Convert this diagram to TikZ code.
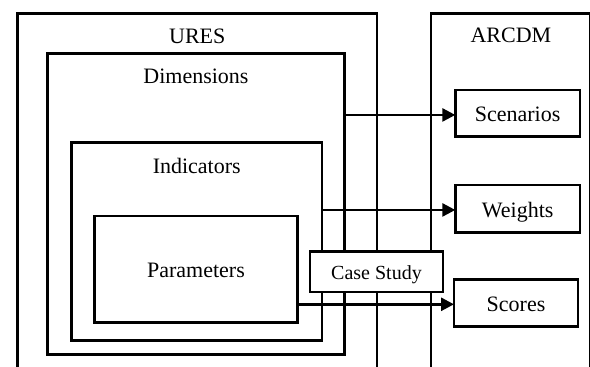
\documentclass[tikz,border=0pt]{standalone}
\usepackage{fontspec}
\setmainfont{Liberation Serif}
\usetikzlibrary{arrows.meta,calc}
\tikzset{
  box/.style={draw, line width=2.7pt, rectangle, inner sep=0pt, outer sep=0pt, anchor=north west},
  tbox/.style={box, font=\fontsize{22}{26}\selectfont, text height=17pt, text depth=0pt},
  lbl/.style={font=\fontsize{22}{26}\selectfont, anchor=base, inner sep=0pt},
  arr/.style={line width=2.7pt, -{Triangle[length=13pt,width=13pt]}},
}
\begin{document}
\begin{tikzpicture}[x=1pt,y=-1pt]
\clip (0,0) rectangle (590,367);
\fill[white] (0,0) rectangle (590,367);
% containers
\node[box, minimum width=359.5pt, minimum height=420pt] (ures) at (17.5,13.3) {};
\node[box, minimum width=159.8pt, minimum height=420pt] (arcdm) at (431,13.3) {};
\node[box, minimum width=297.5pt, minimum height=300.9pt] (dim) at (47.2,53.3) {};
\node[box, minimum width=250.5pt, minimum height=198.1pt] (ind) at (71.5,142.7) {};
\node[tbox, minimum width=203.4pt, minimum height=106.8pt] (par) at (94.3,216) {Parameters};
% titles
\node[lbl] (uresl) at ($(ures.north)+(0,30)$) {URES};
\node[lbl] (arcdml) at ($(arcdm.north)+(0,29.4)$) {ARCDM};
\node[lbl] (diml) at ($(dim.north)+(0,30)$) {Dimensions};
\node[lbl] (indl) at ($(ind.north)+(0,30.6)$) {Indicators};
% ARCDM items
\node[tbox, minimum width=124.7pt, minimum height=46.3pt] (scen) at (455.3,90) {Scenarios};
\node[tbox, minimum width=124.7pt, minimum height=47.3pt] (wts) at (455.3,185) {Weights};
\node[tbox, minimum width=124pt, minimum height=47pt] (sco) at (454,279.7) {Scores};
% arrows
\draw[arr] ($(dim.east |- scen.west)+(0,1.8)$) -- ($(scen.west)+(0,1.8)$);
\draw[arr] ($(ind.east |- wts.west)+(0,1.3)$) -- ($(wts.west)+(0,1.3)$);
\draw[arr] ($(par.east |- sco.west)+(0,1.1)$) -- ($(sco.west)+(0,1.1)$);
% case study
\node[box, fill=white, font=\fontsize{20}{24}\selectfont, text height=16pt, text depth=0pt,
      minimum width=133pt, minimum height=40.7pt] (case) at (310,251.3) {Case Study};
\end{tikzpicture}
\end{document}
